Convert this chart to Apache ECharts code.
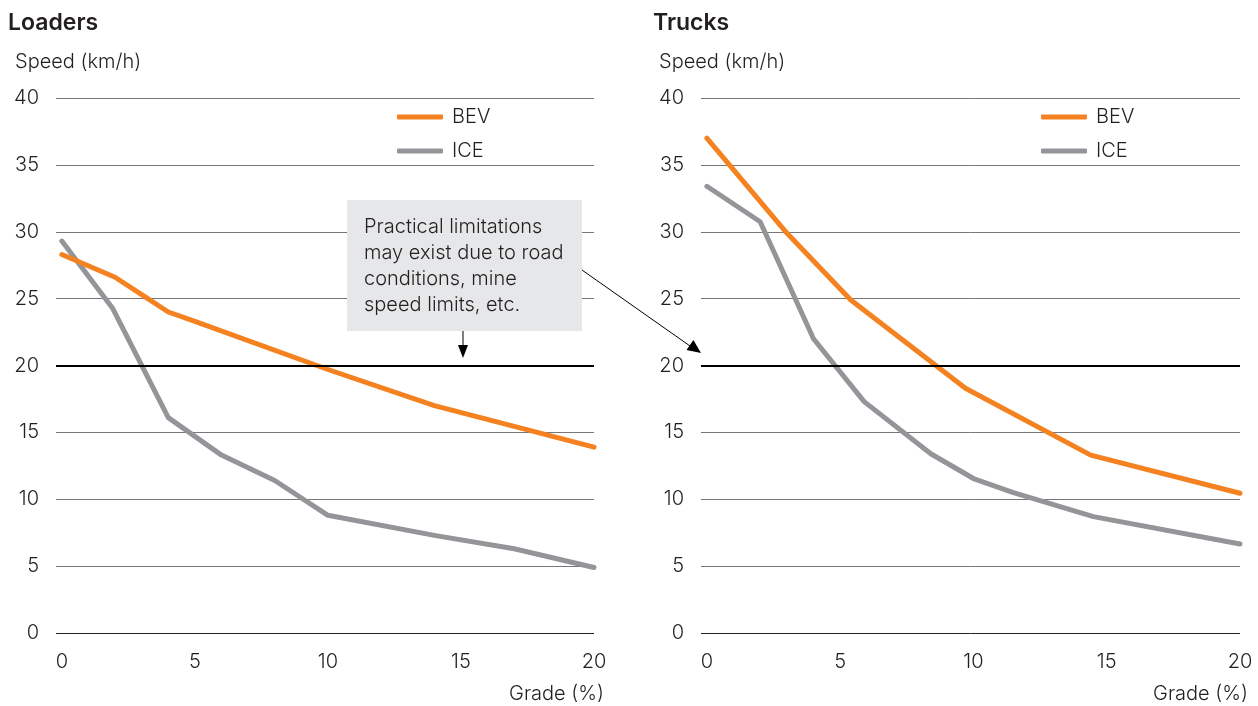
<!DOCTYPE html>
<html><head><meta charset="utf-8">
<script src="https://cdn.jsdelivr.net/npm/echarts@6/dist/echarts.min.js"></script>
<style>html,body{margin:0;padding:0;background:#fff}#c{width:1258px;height:706px}</style>
</head><body><div id="c"></div>
<script>
// Data
const xTicks = [0, 5, 10, 15, 20];
const loadersBEV = [[0, 28.3], [2, 26.6], [3, 25.3], [4, 24.0], [5, 23.3], [10, 19.7], [14, 17.0], [20, 13.9]];
const loadersICE = [[0, 29.3], [1.9, 24.3], [4, 16.1], [6, 13.3], [8, 11.4], [10, 8.8], [14, 7.3], [17, 6.3], [20, 4.9]];
const trucksBEV = [[0, 37.0], [3, 29.9], [5.4, 24.9], [9.7, 18.3], [14.4, 13.3], [20, 10.45]];
const trucksICE = [[0, 33.4], [2, 30.75], [4, 22.0], [5.9, 17.3], [8.4, 13.4], [10, 11.55], [11.5, 10.5], [14.5, 8.7], [20, 6.65]];
const seriesNames = ['BEV', 'ICE'];
const panelTitles = ['Loaders', 'Trucks'];
const yAxisTitle = 'Speed (km/h)';
const xAxisTitle = 'Grade (%)';
const noteLines = ['Practical limitations', 'may exist due to road', 'conditions, mine', 'speed limits, etc.'];

const ORANGE = '#F58220', GREY = '#939598', TXT = '#231F20';
const FONT = 'Inter';
const FS = 20;
const gridLineColors = ['#222', '#777', '#777', '#777', '#000', '#777', '#777', '#777', '#777'];

const chart = echarts.init(document.getElementById('c'), null, {renderer: 'canvas'});
const grids = [{left: 56, top: 98, width: 538, height: 535}, {left: 701, top: 98, width: 539, height: 535}];
function xAx(i) {
  return {gridIndex: i, type: 'value', min: -0.22, max: 20,
    axisLine: {show: false}, axisTick: {show: false}, splitLine: {show: false},
    axisLabel: {customValues: xTicks, color: TXT, fontFamily: FONT, fontSize: FS, fontWeight: 300, margin: 19}};
}
function yAx(i) {
  return {gridIndex: i, type: 'value', min: 0, max: 40, interval: 5,
    axisLine: {show: false}, axisTick: {show: false},
    axisLabel: {color: TXT, fontFamily: FONT, fontSize: FS, fontWeight: 300, margin: 17},
    splitLine: {show: true, lineStyle: {color: gridLineColors, width: 1}}};
}
function ser(name, data, color, i, extra) {
  return Object.assign({name, type: 'line', data, xAxisIndex: i, yAxisIndex: i, showSymbol: false, symbol: 'none',
    silent: true, lineStyle: {color, width: 5, cap: 'round', join: 'round'}, itemStyle: {color}}, extra || {});
}
const ml = {silent: true, symbol: 'none', label: {show: false}, lineStyle: {color: '#000', width: 1.8, type: 'solid'}, data: [{yAxis: 20}]};
function legend(left) {
  return {orient: 'vertical', left, top: 106, padding: 0, icon: 'roundRect', itemWidth: 46, itemHeight: 5, itemGap: 12,
    data: seriesNames, textStyle: {color: TXT, fontFamily: FONT, fontSize: FS, fontWeight: 300, lineHeight: 22, padding: [0, 0, 0, 4]}, selectedMode: false};
}
function txt(x, y, text, size, weight, align) {
  return {type: 'text', x, y, style: {text, fill: TXT, font: `${weight} ${size}px ${FONT}`, textAlign: align || 'left', textVerticalAlign: 'middle'}};
}
const graphics = [
  txt(8, 23, panelTitles[0], 23, 600), txt(653, 23, panelTitles[1], 23, 600),
  txt(15, 62, yAxisTitle, FS, 300), txt(659, 62, yAxisTitle, FS, 300),
  txt(604, 694, xAxisTitle, FS, 300, 'right'), txt(1248, 694, xAxisTitle, FS, 300, 'right'),
  {type: 'rect', shape: {x: 347, y: 200, width: 235, height: 131}, style: {fill: '#E6E7E8'}, z: 10},
  {type: 'line', shape: {x1: 463, y1: 331, x2: 463, y2: 348}, style: {stroke: '#000', lineWidth: 1}, z: 10},
  {type: 'polygon', shape: {points: [[458, 345], [468, 345], [463, 358]]}, style: {fill: '#000'}, z: 10},
  {type: 'line', shape: {x1: 582, y1: 270, x2: 690, y2: 346}, style: {stroke: '#000', lineWidth: 1}, z: 10},
  {type: 'polygon', shape: {points: [[686.5, 349.9], [693.4, 340.1], [701, 353]]}, style: {fill: '#000'}, z: 10}
];
noteLines.forEach((l, k) => { const t = txt(364, 227 + k * 26, l, FS, 300); t.z = 11; graphics.push(t); });

chart.setOption({
  animation: false,
  grid: grids,
  xAxis: [xAx(0), xAx(1)],
  yAxis: [yAx(0), yAx(1)],
  legend: [legend(397), legend(1041)],
  series: [
    ser('ICE', loadersICE, GREY, 0, {markLine: ml}),
    ser('BEV', loadersBEV, ORANGE, 0),
    ser('ICE', trucksICE, GREY, 1, {markLine: ml}),
    ser('BEV', trucksBEV, ORANGE, 1)
  ],
  graphic: graphics
});
</script></body></html>
